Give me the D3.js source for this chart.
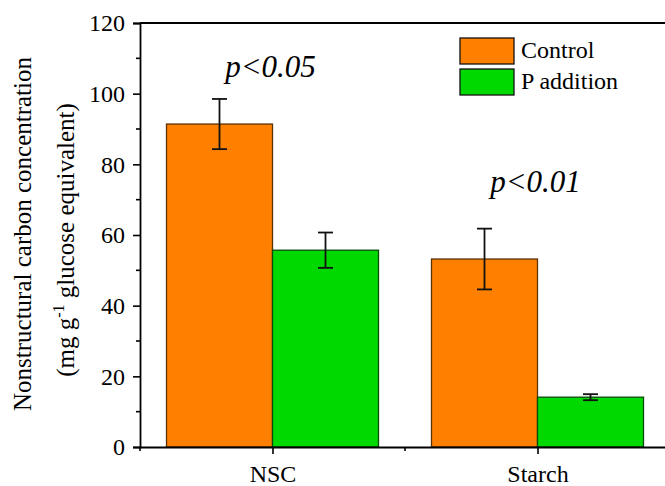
<!DOCTYPE html>
<html>
<head>
<meta charset="utf-8">
<script src="https://cdn.jsdelivr.net/npm/d3@7"></script>
<style>
  body { margin: 0; background: #fff; }
</style>
</head>
<body>
<div id="chart"></div>
<script>
const categories = ["NSC", "Starch"];
const seriesNames = ["Control", "P addition"];
const controlValues = [91.4, 53.2];
const controlErrors = [7.1, 8.6];
const pAdditionValues = [55.7, 14.1];
const pAdditionErrors = [5.0, 0.85];
const significance = ["p<0.05", "p<0.01"];
const yTicks = [0, 20, 40, 60, 80, 100, 120];
const yMinorTicks = [10, 30, 50, 70, 90, 110];

const FONT = '"Liberation Serif", "Times New Roman", "DejaVu Serif", serif';
const width = 665;
const height = 486;
const margin = { top: 23, left: 140, bottom: 39 };
const plotBottom = height - margin.bottom;

const colors = ["#ff8000", "#00d900"];
const strokes = ["#5a3100", "#0a4a0a"];

const svg = d3.select("#chart").append("svg")
  .attr("width", width)
  .attr("height", height)
  .attr("font-family", FONT);

const y = d3.scaleLinear().domain([0, 120]).range([plotBottom, margin.top]);
// category positions 1 and 2, axis runs 0.5 .. 2.5 (clipped on the right)
const x = d3.scaleLinear().domain([0.5, 2.5]).range([margin.left, 670]);
const barW = (x(1.5) - x(0.5)) * 0.8 / 2;

const rows = categories.map(function (c, i) {
  return [
    { cat: c, pos: i + 1, s: 0, value: controlValues[i], err: controlErrors[i] },
    { cat: c, pos: i + 1, s: 1, value: pAdditionValues[i], err: pAdditionErrors[i] }
  ];
}).flat();

// bars
svg.append("g").selectAll("rect")
  .data(rows)
  .join("rect")
  .attr("x", function (d) { return d.s === 0 ? x(d.pos) - barW : x(d.pos); })
  .attr("y", function (d) { return y(d.value); })
  .attr("width", barW)
  .attr("height", function (d) { return y(0) - y(d.value); })
  .attr("fill", function (d) { return colors[d.s]; })
  .attr("stroke", function (d) { return strokes[d.s]; })
  .attr("stroke-width", 1.3);

// error bars
const errG = svg.append("g")
  .attr("stroke", "#111")
  .attr("stroke-width", 1.8);

rows.forEach(function (d) {
  const cx = d.s === 0 ? x(d.pos) - barW / 2 : x(d.pos) + barW / 2;
  const cap = 7.5;
  errG.append("line")
    .attr("x1", cx).attr("x2", cx)
    .attr("y1", y(d.value + d.err)).attr("y2", y(d.value - d.err));
  errG.append("line")
    .attr("x1", cx - cap).attr("x2", cx + cap)
    .attr("y1", y(d.value + d.err)).attr("y2", y(d.value + d.err));
  errG.append("line")
    .attr("x1", cx - cap).attr("x2", cx + cap)
    .attr("y1", y(d.value - d.err)).attr("y2", y(d.value - d.err));
});

// y axis
const yAxis = svg.append("g")
  .attr("transform", `translate(${margin.left},0)`)
  .call(d3.axisLeft(y).tickValues(yTicks).tickSize(7).tickPadding(8));
yAxis.attr("font-family", FONT).attr("font-size", 24);
yAxis.select(".domain").attr("stroke-width", 1.8);
yAxis.selectAll(".tick line").attr("stroke-width", 1.6);

svg.append("g")
  .selectAll("line")
  .data(yMinorTicks)
  .join("line")
  .attr("x1", margin.left - 4).attr("x2", margin.left)
  .attr("y1", function (d) { return y(d); })
  .attr("y2", function (d) { return y(d); })
  .attr("stroke", "#000")
  .attr("stroke-width", 1.6);

// x axis
const xAxis = svg.append("g")
  .attr("transform", `translate(0,${plotBottom})`)
  .call(d3.axisBottom(x).tickValues([1, 2]).tickFormat(function (d) { return categories[d - 1]; })
    .tickSize(7).tickPadding(11).tickSizeOuter(0));
xAxis.attr("font-family", FONT).attr("font-size", 24);
xAxis.select(".domain").attr("stroke-width", 1.8);
xAxis.selectAll(".tick line").attr("stroke-width", 1.6);

svg.append("g")
  .selectAll("line")
  .data([0.5, 1.5])
  .join("line")
  .attr("x1", function (d) { return x(d); })
  .attr("x2", function (d) { return x(d); })
  .attr("y1", plotBottom).attr("y2", plotBottom + 4)
  .attr("stroke", "#000")
  .attr("stroke-width", 1.6);

// top frame line
svg.append("line")
  .attr("x1", margin.left).attr("x2", width)
  .attr("y1", margin.top).attr("y2", margin.top)
  .attr("stroke", "#000")
  .attr("stroke-width", 1.8);

// significance labels
const sigY = [77, 192];
svg.append("g").selectAll("text")
  .data(significance)
  .join("text")
  .attr("x", function (d, i) { return x(i + 1) - 2; })
  .attr("y", function (d, i) { return sigY[i]; })
  .attr("text-anchor", "middle")
  .attr("font-size", 31)
  .attr("font-style", "italic")
  .text(function (d) { return d; });

// legend
const legend = svg.append("g");
seriesNames.forEach(function (name, i) {
  const ly = 38 + i * 31;
  legend.append("rect")
    .attr("x", 460).attr("y", ly)
    .attr("width", 54).attr("height", 26)
    .attr("fill", colors[i])
    .attr("stroke", "#111")
    .attr("stroke-width", 1.3);
  legend.append("text")
    .attr("x", 521).attr("y", ly + 20)
    .attr("font-size", 24)
    .text(name);
});

// y label
svg.append("text")
  .attr("transform", "translate(31,234) rotate(-90)")
  .attr("text-anchor", "middle")
  .attr("font-size", 25)
  .text("Nonstructural carbon concentration");

const lab2 = svg.append("text")
  .attr("transform", "translate(74,240) rotate(-90)")
  .attr("text-anchor", "middle")
  .attr("font-size", 25);
lab2.append("tspan").text("(mg g");
lab2.append("tspan").attr("dy", -10).attr("font-size", 16).text("-1");
lab2.append("tspan").attr("dy", 10).text(" glucose equivalent)");
</script>
</body>
</html>
